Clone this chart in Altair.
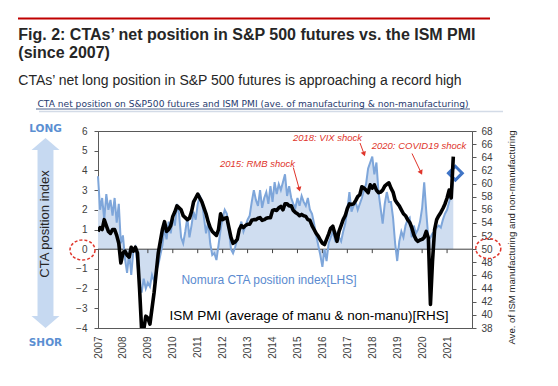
import math
import altair as alt
import pandas as pd

# ---------------- data ----------------
years = list(range(2007, 2022))

cta_2007 = [3.7, 2.0, 2.6, 1.5, 2.8, 2.0, 2.5, 1.7, 2.6, 1.35, 2.3, 0.3]
cta_2008 = [0.7, -0.5, -1.2, -0.2, -1.3, -0.1, 0.1, -0.8, -1.8, -2.2, -1.5, -2.0]
cta_2009 = [-1.7, -1.9, -1.3, -1.6, -1.1, -0.8, -0.3, 0.2, 1.1, 0.5, 1.4, 0.8]
cta_2010 = [1.6, 1.2, 2.3, 1.8, 0.6, 0.3, 0.9, 1.6, 0.6, 1.2, 1.9, 1.5]
cta_2011 = [2.3, 2.7, 2.5, 1.6, 0.8, 1.4, 0.3, -0.3, -0.2, -0.55, 0.2, 1.0]
cta_2012 = [1.6, 2.0, 1.8, 1.0, 0.0, -0.2, 0.1, 0.5, 1.0, 1.4, 0.9, 1.2]
cta_2013 = [1.5, 1.7, 2.4, 3.0, 2.5, 2.2, 3.0, 2.1, 2.6, 2.9, 2.3, 3.2]
cta_2014 = [2.4, 3.4, 2.8, 3.3, 3.0, 3.4, 3.8, 2.7, 3.2, 2.6, 2.3, 2.1]
cta_2015 = [2.6, 2.2, 2.7, 2.4, 2.2, 2.6, 2.0, 1.8, 1.3, 0.7, 0.2, -0.3]
cta_2016 = [-0.9, 0.0, -0.6, 0.3, 0.6, 0.9, 0.5, 0.8, 0.6, 0.4, 0.9, 1.3]
cta_2017 = [2.0, 2.9, 1.9, 2.2, 2.4, 2.0, 2.3, 2.6, 3.0, 3.3, 4.1, 4.4]
cta_2018 = [4.7, 3.8, 4.4, 2.9, 2.1, 1.3, 2.3, 2.9, 2.4, 2.4, 1.6, 0.3]
cta_2019 = [-0.6, 0.4, 0.9, 0.6, 1.2, 1.5, 1.6, 0.6, 1.2, 0.8, 1.0, 1.4]
cta_2020 = [2.1, 3.4, 1.9, 0.5, 0.6, 0.8, 0.9, 1.1, 1.2, 1.1, 1.5, 1.8]
cta_2021 = [2.0, 2.4, 2.8, 3.5]

ism_2007 = [52.7, 53.3, 53.0, 54.5, 53.6, 52.7, 52.4, 53.0, 53.0, 52.1, 50.9, 47.9]
ism_2008 = [49.4, 49.7, 49.1, 48.8, 50.3, 49.7, 50.3, 49.4, 44.0, 37.7, 37.7, 39.8]
ism_2009 = [39.5, 38.6, 41.0, 43.4, 46.4, 49.4, 51.2, 53.0, 54.2, 52.7, 53.0, 53.6]
ism_2010 = [55.0, 55.7, 56.6, 56.3, 56.0, 55.1, 54.8, 54.5, 54.7, 55.7, 57.2, 57.8]
ism_2011 = [58.4, 57.8, 57.2, 56.3, 55.4, 54.2, 53.3, 52.7, 52.4, 52.1, 53.0, 55.4]
ism_2012 = [54.5, 54.7, 54.8, 53.3, 51.8, 50.9, 51.1, 51.5, 53.0, 53.6, 53.3, 53.6]
ism_2013 = [53.8, 53.8, 54.4, 54.5, 54.5, 54.7, 54.8, 54.4, 54.5, 54.7, 54.8, 54.8]
ism_2014 = [55.9, 56.0, 55.9, 56.3, 56.5, 56.0, 56.9, 56.9, 56.6, 56.6, 55.9, 55.6]
ism_2015 = [55.4, 55.1, 55.3, 55.1, 55.0, 54.5, 54.4, 53.6, 53.0, 52.4, 52.0, 51.4]
ism_2016 = [50.9, 50.7, 51.5, 52.3, 53.2, 53.5, 52.4, 51.2, 52.7, 53.6, 54.5, 55.1]
ism_2017 = [56.2, 56.9, 56.8, 56.9, 57.4, 58.0, 58.3, 59.5, 59.3, 59.0, 58.6, 59.8]
ism_2018 = [59.3, 59.8, 59.0, 58.6, 58.7, 59.0, 59.6, 59.9, 60.1, 59.3, 58.7, 57.5]
ism_2019 = [57.0, 56.6, 56.0, 55.4, 55.1, 54.5, 54.1, 53.3, 52.2, 51.5, 51.2, 51.4]
ism_2020 = [51.5, 51.8, 52.7, 51.7, 41.6, 48.2, 53.0, 54.5, 55.1, 55.6, 56.2, 56.9]
ism_2021 = [57.8, 59.0, 57.8, 64.1]

latest_cta_t = 2021 + 4 / 12
latest_cta = 3.86

left_ticks = list(range(-4, 7))
right_ticks = list(range(38, 70, 2))

cta_lists = [cta_2007, cta_2008, cta_2009, cta_2010, cta_2011, cta_2012, cta_2013,
             cta_2014, cta_2015, cta_2016, cta_2017, cta_2018, cta_2019, cta_2020, cta_2021]
ism_lists = [ism_2007, ism_2008, ism_2009, ism_2010, ism_2011, ism_2012, ism_2013,
             ism_2014, ism_2015, ism_2016, ism_2017, ism_2018, ism_2019, ism_2020, ism_2021]

cta_df = pd.DataFrame([{"t": y + i / 12, "cta": v}
                       for y, vals in zip(years, cta_lists) for i, v in enumerate(vals)])
ism_df = pd.DataFrame([{"t": y + i / 12, "pmi": v}
                       for y, vals in zip(years, ism_lists) for i, v in enumerate(vals)])
tick_df = pd.DataFrame({"t": years[1:], "y0": [0] * (len(years) - 1), "y1": [-0.2] * (len(years) - 1)})
zero_df = pd.DataFrame({"y0": [0]})
last_df = pd.DataFrame({"t": [latest_cta_t], "cta": [latest_cta]})

# ---------------- layout ----------------
OX, OY = 98, 131          # page position of plot origin
W, H = 374, 197

FONT = "Liberation Sans"
BLUE_FILL = "#cfddf0"
BLUE_LINE = "#7ea6da"
RED = "#e0352b"

xscale = alt.Scale(domain=[2007, 2022], nice=False, zero=False)
x_axis = alt.Axis(values=years, format="d", labelAngle=270, ticks=False, domain=False,
                  grid=False, labelPadding=8, labelFlush=False, labelOverlap=False,
                  labelFontSize=10, title=None)
X = alt.X("t:Q", scale=xscale, axis=x_axis)

lscale = alt.Scale(domain=[-4, 6], nice=False, zero=False)
l_axis = alt.Axis(orient="left", values=left_ticks, tickSize=4, labelPadding=7,
                  grid=False, title=None, labelFontSize=10)
rscale = alt.Scale(domain=[38, 68], nice=False, zero=False)
r_axis = alt.Axis(orient="right", values=right_ticks, tickSize=4, labelPadding=5,
                  grid=False, title=None, labelFontSize=10)


def one(label="x"):
    return pd.DataFrame({"label": [label]})


def txt(text, x, y, size, color, font=FONT, weight="normal", style="normal",
        align="left", baseline="alphabetic", angle=0):
    return alt.Chart(one(text)).mark_text(
        align=align, baseline=baseline, font=font, fontSize=size, fontWeight=weight,
        fontStyle=style, color=color, angle=angle
    ).encode(x=alt.value(x - OX), y=alt.value(y - OY), text="label:N")


def hline(x1, x2, y, color, width):
    return alt.Chart(one()).mark_rule(color=color, strokeWidth=width).encode(
        x=alt.value(x1 - OX), x2=alt.value(x2 - OX), y=alt.value(y - OY))


def seg(x1, y1, x2, y2, color, width):
    return alt.Chart(one()).mark_rule(color=color, strokeWidth=width).encode(
        x=alt.value(x1 - OX), x2=alt.value(x2 - OX), y=alt.value(y1 - OY), y2=alt.value(y2 - OY))


def arrow(x1, y1, x2, y2):
    dx, dy = x2 - x1, y2 - y1
    L = math.hypot(dx, dy)
    ux, uy = dx / L, dy / L
    ang = (-math.degrees(math.atan2(dx, dy))) % 360
    line = seg(x1, y1, x2 - 3 * ux, y2 - 3 * uy, RED, 1)
    head = alt.Chart(one()).mark_point(shape="triangle-down", size=30, filled=True,
                                       color=RED, opacity=1, angle=ang).encode(
        x=alt.value(x2 - 2.6 * ux - OX), y=alt.value(y2 - 2.6 * uy - OY))
    return [line, head]


def ellipse(cx, cy, rx, ry):
    pts = []
    for i in range(40):
        a = 2 * math.pi * i / 40
        pts.append(f"{math.cos(a):.3f},{(ry / rx) * math.sin(a):.3f}")
    path = "M" + " L".join(pts) + " Z"
    return alt.Chart(one()).mark_point(shape=path, size=(2 * rx) ** 2, filled=False,
                                       color=RED, strokeWidth=1.5, strokeDash=[3, 2],
                                       opacity=1).encode(
        x=alt.value(cx - OX), y=alt.value(cy - OY))


# ---------------- left-scale layers ----------------
area = alt.Chart(cta_df).mark_area(color=BLUE_FILL, opacity=1).encode(
    x=X, y=alt.Y("cta:Q", scale=lscale, axis=l_axis), y2=alt.datum(0))
zero_line = alt.Chart(zero_df).mark_rule(color="#404040", strokeWidth=1).encode(
    y=alt.Y("y0:Q", scale=lscale, axis=l_axis))
year_ticks = alt.Chart(tick_df).mark_rule(color="#404040", strokeWidth=1).encode(
    x=X, y=alt.Y("y0:Q", scale=lscale, axis=l_axis), y2="y1:Q")
cta_line = alt.Chart(cta_df).mark_line(color=BLUE_LINE, strokeWidth=2).encode(
    x=X, y=alt.Y("cta:Q", scale=lscale, axis=l_axis))
diamond = alt.Chart(last_df).mark_point(shape="diamond", size=190, filled=False,
                                        color="#3f74c6", strokeWidth=3, opacity=1).encode(
    x=X, y=alt.Y("cta:Q", scale=lscale, axis=l_axis))

left_group = alt.layer(area, zero_line, year_ticks, cta_line, diamond)

# ---------------- right-scale layer ----------------
ism_line = alt.Chart(ism_df).mark_line(color="black", strokeWidth=3.6, clip=True,
                                       strokeJoin="round").encode(
    x=X, y=alt.Y("pmi:Q", scale=rscale, axis=r_axis))
right_group = alt.layer(ism_line)

# ---------------- decorations & text ----------------
arrow_path = ("M0,-1 L0.147,-0.874 L0.084,-0.874 L0.084,0.874 L0.147,0.874 L0,1 "
              "L-0.147,0.874 L-0.084,0.874 L-0.084,-0.874 L-0.147,-0.874 Z")
big_arrow = alt.Chart(one()).mark_point(shape=arrow_path, size=(2 * 95) ** 2, filled=True,
                                        color="#c6d9f1", opacity=1, strokeWidth=0).encode(
    x=alt.value(45.5 - OX), y=alt.value(233 - OY))

deco = [
    hline(18, 490, 18.5, "#c00000", 2),
    txt("Fig. 2: CTAs’ net position in S&P 500 futures vs. the ISM PMI", 18.3, 39.5, 16,
        "#262626", weight="bold"),
    txt("(since 2007)", 18.3, 57.5, 16, "#262626", weight="bold"),
    txt("CTAs’ net long position in S&P 500 futures is approaching a record high", 18.3, 84.5,
        14, "#262626"),
    txt("CTA net position on S&P500 futures and ISM PMI (ave. of manufacturing & non-manufacturing)",
        253, 107, 9.1, "#1f3a6e", font="DejaVu Sans", align="center"),
    hline(36, 470, 109, "#1f3a6e", 0.8),
    hline(39, 503, 111.5, "#d3dbe7", 1.5),
    big_arrow,
    txt("LONG", 45.5, 132, 10.5, "#5b8fd2", font="DejaVu Sans", weight="bold", align="center"),
    txt("SHOR", 45.5, 345.5, 10.5, "#5b8fd2", font="DejaVu Sans", weight="bold", align="center"),
    txt("CTA position index", 44.5, 224, 13, "#262626", align="center", baseline="middle",
        angle=270),
    txt("Ave. of ISM manufacturing and non-manufacturing", 512, 237.5, 9.6, "#262626",
        align="center", baseline="middle", angle=270),
    ellipse(82.5, 250, 12.5, 10),
    ellipse(488.3, 248.5, 12.5, 10),
    txt("Nomura CTA position index[LHS]", 269, 284, 12, "#5b8bd0", align="center"),
    txt("ISM PMI (average of manu & non-manu)[RHS]", 309, 319.5, 13.5, "black",
        align="center"),
    txt("2015: RMB shock", 257.5, 166.5, 9.5, RED, style="italic", align="center"),
    txt("2018: VIX shock", 327.5, 140.5, 9.5, RED, style="italic", align="center"),
    txt("2020: COVID19 shock", 419, 149, 9.5, RED, style="italic", align="center"),
]
deco += arrow(293.3, 167.5, 300, 191.7)
deco += arrow(360, 143, 365, 156.5)
deco += arrow(412, 153.5, 422.2, 175)

deco_group = alt.layer(*deco)

chart = alt.layer(left_group, right_group, deco_group).resolve_scale(
    y="independent"
).properties(
    width=W, height=H,
    autosize=alt.AutoSizeParams(type="none"),
    padding={"left": OX - 8, "top": OY - 8, "right": 558 - 16 - (OX - 8) - W, "bottom": 386 - 16 - (OY - 8) - H},
    background="white",
).configure_view(
    stroke="#595959", strokeWidth=1
).configure_axis(
    labelFont=FONT, labelColor="#404040", tickColor="#595959", domainColor="#595959"
)

chart.save("out.html", embed_options={"renderer": "svg", "actions": False})
